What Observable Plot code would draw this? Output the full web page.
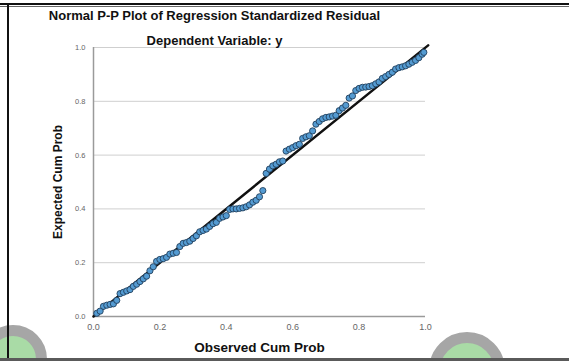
<!DOCTYPE html>
<html>
<head>
<meta charset="utf-8">
<script src="https://cdn.jsdelivr.net/npm/d3@7"></script>
<script src="https://cdn.jsdelivr.net/npm/@observablehq/plot@0.6"></script>
<style>
  html, body { margin: 0; padding: 0; background: #fff; }
  #wrap { position: relative; width: 569px; height: 361px; overflow: hidden; background: #fff; }
  #chart { position: absolute; left: 0; top: 0; }
  .deco { position: absolute; pointer-events: none; }
</style>
</head>
<body>
<div id="wrap">
  <div id="chart"></div>
  <div class="deco" style="left:-21px; top:325px; width:46px; height:46px; border:11px solid #a6a6a6; border-radius:50%; background:#a9dba6;"></div>
  <div class="deco" style="left:429px; top:332px; width:54px; height:54px; border:11px solid #a6a6a6; border-radius:50%; background:#a9dba6;"></div>
  <div class="deco" style="left:0; top:3px; width:569px; height:2px; background:#111;"></div>
  <div class="deco" style="left:0; top:6px; width:569px; height:1px; background:#666;"></div>
  <div class="deco" style="left:7px; top:3px; width:2px; height:358px; background:#111;"></div>
  <div class="deco" style="left:0; top:358px; width:569px; height:3px; background:#5a5a5a;"></div>
</div>
<script>
const title = "Normal P-P Plot of Regression Standardized Residual";
const subtitle = "Dependent Variable: y";
const xLabel = "Observed Cum Prob";
const yLabel = "Expected Cum Prob";
const tickValues = [0, 0.2, 0.4, 0.6, 0.8, 1.0];
const gridValues = [0.2, 0.4, 0.6, 0.8, 1.0];

const observed = [
  0.01,0.02,0.03,0.04,0.05,0.06,0.07,0.08,0.09,0.10,
  0.11,0.12,0.13,0.14,0.15,0.16,0.17,0.18,0.19,0.20,
  0.21,0.22,0.23,0.24,0.25,0.26,0.27,0.28,0.29,0.30,
  0.31,0.32,0.33,0.34,0.35,0.36,0.37,0.38,0.39,0.40,
  0.41,0.42,0.43,0.44,0.45,0.46,0.47,0.48,0.49,0.50,
  0.51,0.52,0.53,0.54,0.55,0.56,0.57,0.58,0.59,0.60,
  0.61,0.62,0.63,0.64,0.65,0.66,0.67,0.68,0.69,0.70,
  0.71,0.72,0.73,0.74,0.75,0.76,0.77,0.78,0.79,0.80,
  0.81,0.82,0.83,0.84,0.85,0.86,0.87,0.88,0.89,0.90,
  0.91,0.92,0.93,0.94,0.95,0.96,0.97,0.98,0.99,0.995
];
const expected = [
  0.012,0.020,0.038,0.042,0.045,0.047,0.060,0.085,0.090,0.095,
  0.100,0.112,0.120,0.130,0.140,0.150,0.170,0.185,0.205,0.212,
  0.215,0.220,0.232,0.235,0.238,0.260,0.272,0.275,0.280,0.290,
  0.300,0.315,0.320,0.325,0.335,0.345,0.350,0.365,0.370,0.375,
  0.398,0.400,0.400,0.402,0.404,0.408,0.415,0.425,0.432,0.445,
  0.468,0.532,0.548,0.560,0.566,0.575,0.578,0.615,0.622,0.628,
  0.635,0.640,0.662,0.668,0.672,0.690,0.715,0.725,0.735,0.740,
  0.742,0.745,0.748,0.765,0.775,0.785,0.812,0.820,0.840,0.848,
  0.852,0.853,0.855,0.858,0.865,0.872,0.885,0.892,0.900,0.908,
  0.920,0.925,0.928,0.932,0.938,0.945,0.952,0.962,0.975,0.982
];
const refLine = [0, 1.008];

const points = observed.map((x, i) => ({x, y: expected[i]}));
const ref = refLine.map(v => ({x: v, y: v}));

const chart = Plot.plot({
  width: 569,
  height: 361,
  marginLeft: 93,
  marginRight: 144,
  marginTop: 47,
  marginBottom: 45,
  style: {fontFamily: "'Liberation Sans', Arial, sans-serif", background: "transparent", overflow: "visible"},
  x: {domain: [0, 1], label: null},
  y: {domain: [0, 1], label: null},
  marks: [
    Plot.gridY(gridValues, {stroke: "#cfcfcf", strokeOpacity: 1, strokeWidth: 1}),
    Plot.axisX(tickValues, {tickSize: 0, tickPadding: 7, fontSize: 9, fill: "#666", tickFormat: d3.format(".1f"), label: null}),
    Plot.axisY(tickValues, {tickSize: 0, tickPadding: 8, fontSize: 7.5, fill: "#666", tickFormat: d3.format(".1f"), label: null}),
    Plot.ruleX([0], {stroke: "#9a9a9a", strokeWidth: 1.5}),
    Plot.ruleY([0], {stroke: "#9a9a9a", strokeWidth: 1.5}),
    Plot.line(ref, {x: "x", y: "y", stroke: "#111", strokeWidth: 2.5, clip: false}),
    Plot.dot(points, {x: "x", y: "y", r: 3.1, fill: "#549bd2", stroke: "#213f5c", strokeWidth: 0.9}),
    Plot.text([title], {frameAnchor: "top", dx: -45, dy: -37, fontSize: 13, fontWeight: "bold", fill: "#111"}),
    Plot.text([subtitle], {frameAnchor: "top", dx: -45, dy: -12, fontSize: 13, fontWeight: "bold", fill: "#111"}),
    Plot.text([xLabel], {frameAnchor: "bottom", dy: 35, fontSize: 13.5, fontWeight: "bold", fill: "#111"}),
    Plot.text([yLabel], {frameAnchor: "left", dx: -35, rotate: -90, textAnchor: "middle", fontSize: 12, fontWeight: "bold", fill: "#111"})
  ]
});
document.getElementById("chart").appendChild(chart);
</script>
</body>
</html>
